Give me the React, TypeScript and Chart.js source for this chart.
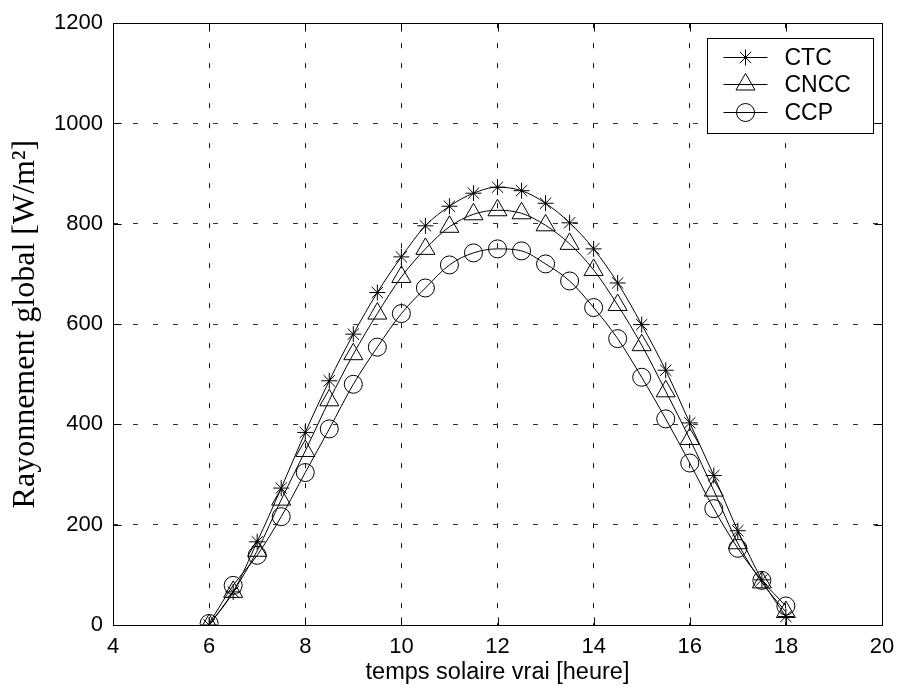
import React, { useEffect, useRef } from "react";
import { Chart, registerables } from "chart.js";

Chart.register(...registerables);

// ---- data ----
const hours = [6, 6.5, 7, 7.5, 8, 8.5, 9, 9.5, 10, 10.5, 11, 11.5, 12, 12.5, 13, 13.5, 14, 14.5, 15, 15.5, 16, 16.5, 17, 17.5, 18];
const ctc = [0, 66, 166, 273, 384, 487, 580, 663, 734, 796, 835, 861, 873, 866, 841, 802, 750, 682, 599, 508, 403, 298, 188, 90, 17];
const cncc = [0, 66, 148, 250, 347, 448, 540, 621, 694, 750, 794, 819, 827, 821, 797, 760, 708, 638, 558, 466, 371, 268, 163, 85, 26];
const ccp = [3, 79, 139, 216, 304, 391, 480, 554, 621, 672, 718, 742, 750, 746, 720, 686, 633, 571, 494, 411, 323, 232, 153, 89, 38];
const seriesLabels = ["CTC", "CNCC", "CCP"];
const xTicks = [4, 6, 8, 10, 12, 14, 16, 18, 20];
const yTicks = [0, 200, 400, 600, 800, 1000, 1200];
const xTitle = "temps solaire vrai [heure]";
const yTitle = "Rayonnement global [W/m²]";

const SANS = "'Liberation Sans', Arial, Helvetica, sans-serif";
const SERIF = "'Liberation Serif', 'Times New Roman', Times, serif";

function drawMarker(ctx: CanvasRenderingContext2D, style: string, x: number, y: number, r: number) {
  ctx.beginPath();
  if (style === "circle") {
    ctx.arc(x, y, r, 0, Math.PI * 2);
  } else if (style === "triangle") {
    let rad = 0;
    ctx.moveTo(x + Math.sin(rad) * r, y - Math.cos(rad) * r);
    rad += (2 * Math.PI) / 3;
    ctx.lineTo(x + Math.sin(rad) * r, y - Math.cos(rad) * r);
    rad += (2 * Math.PI) / 3;
    ctx.lineTo(x + Math.sin(rad) * r, y - Math.cos(rad) * r);
    ctx.closePath();
  } else {
    const d = Math.cos(Math.PI / 4) * r;
    ctx.moveTo(x - r, y);
    ctx.lineTo(x + r, y);
    ctx.moveTo(x, y - r);
    ctx.lineTo(x, y + r);
    ctx.moveTo(x - d, y - d);
    ctx.lineTo(x + d, y + d);
    ctx.moveTo(x - d, y + d);
    ctx.lineTo(x + d, y - d);
  }
  ctx.stroke();
}

const framePlugin = {
  id: "matlabFrame",
  afterDraw(chart: any) {
    const { ctx, chartArea: a, scales } = chart;
    ctx.save();
    ctx.strokeStyle = "#000";
    ctx.lineWidth = 1;
    ctx.setLineDash([]);
    const L = Math.round(a.left) + 0.5;
    const R = Math.round(a.right) + 0.5;
    const T = Math.round(a.top) + 0.5;
    const B = Math.round(a.bottom) + 0.5;
    ctx.strokeRect(L, T, R - L, B - T);
    const tl = 8;
    ctx.beginPath();
    xTicks.forEach((v) => {
      const px = Math.round(scales.x.getPixelForValue(v)) + 0.5;
      ctx.moveTo(px, B);
      ctx.lineTo(px, B - tl);
      ctx.moveTo(px, T);
      ctx.lineTo(px, T + tl);
    });
    yTicks.forEach((v) => {
      const py = Math.round(scales.y.getPixelForValue(v)) + 0.5;
      ctx.moveTo(L, py);
      ctx.lineTo(L + tl, py);
      ctx.moveTo(R, py);
      ctx.lineTo(R - tl, py);
    });
    ctx.stroke();

    // legend
    const bx = Math.round(a.right - 175) + 0.5;
    const by = Math.round(a.top + 15) + 0.5;
    const bw = 166;
    const bh = 95;
    ctx.fillStyle = "#fff";
    ctx.fillRect(bx, by, bw, bh);
    ctx.strokeRect(bx, by, bw, bh);
    ctx.font = `23px ${SANS}`;
    ctx.textBaseline = "middle";
    ctx.textAlign = "left";
    chart.data.datasets.forEach((ds: any, i: number) => {
      const ry = Math.round(by + 18 + i * 27.5) + 0.5;
      ctx.beginPath();
      ctx.moveTo(bx + 16, ry);
      ctx.lineTo(bx + 60, ry);
      ctx.stroke();
      drawMarker(ctx, ds.pointStyle, bx + 38, ry, ds.pointRadius);
      ctx.fillStyle = "#000";
      ctx.fillText(ds.label, bx + 77, ry + 1);
    });
    ctx.restore();
  },
};

export default function App() {
  const ref = useRef<HTMLCanvasElement>(null);
  useEffect(() => {
    if (!ref.current) return;
    const mk = (label: string, vals: number[], style: string, r: number) => ({
      label,
      data: hours.map((h, i) => ({ x: h, y: vals[i] })),
      borderColor: "#000",
      backgroundColor: "rgba(0,0,0,0)",
      borderWidth: 1,
      pointStyle: style,
      pointRadius: r,
      pointBorderColor: "#000",
      pointBackgroundColor: "rgba(0,0,0,0)",
      pointBorderWidth: 1,
      cubicInterpolationMode: "monotone" as const,
      fill: false,
    });
    const chart = new Chart(ref.current, {
      type: "line",
      data: {
        datasets: [
          mk(seriesLabels[0], ctc, "star", 8),
          mk(seriesLabels[1], cncc, "triangle", 11),
          mk(seriesLabels[2], ccp, "circle", 9),
        ],
      },
      options: {
        animation: false,
        responsive: false,
        layout: { padding: { top: 20, right: 23, left: 0, bottom: 0 } },
        plugins: { legend: { display: false }, tooltip: { enabled: false } },
        scales: {
          x: {
            type: "linear",
            min: 4,
            max: 20,
            afterFit: (s: any) => {
              s.height = 73;
            },
            afterBuildTicks: (s: any) => {
              s.ticks = xTicks.map((v) => ({ value: v }));
            },
            ticks: { color: "#000", font: { family: SANS, size: 22 }, padding: 9, maxRotation: 0, callback: (v: any) => String(v) },
            grid: { color: "#111", lineWidth: 1, drawTicks: false },
            border: { display: false, dash: [5, 15] },
            title: { display: true, text: xTitle, color: "#000", font: { family: SANS, size: 23.5 }, padding: { top: 0, bottom: 11 } },
          },
          y: {
            type: "linear",
            min: 0,
            max: 1200,
            afterFit: (s: any) => {
              s.width = 113;
            },
            afterBuildTicks: (s: any) => {
              s.ticks = yTicks.map((v) => ({ value: v }));
            },
            ticks: { color: "#000", font: { family: SANS, size: 22 }, padding: 10, callback: (v: any) => String(v) },
            grid: { color: "#333", lineWidth: 1, drawTicks: false },
            border: { display: false, dash: [5, 15] },
            title: { display: true, text: yTitle, color: "#000", font: { family: SERIF, size: 32 }, padding: { top: 6, bottom: 0 } },
          },
        },
      },
      plugins: [framePlugin],
    } as any);
    return () => chart.destroy();
  }, []);
  return (
    <div style={{ position: "absolute", left: 0, top: 0, width: 905, height: 698, background: "#fff" }}>
      <canvas ref={ref} width={905} height={698} style={{ display: "block" }} />
    </div>
  );
}
